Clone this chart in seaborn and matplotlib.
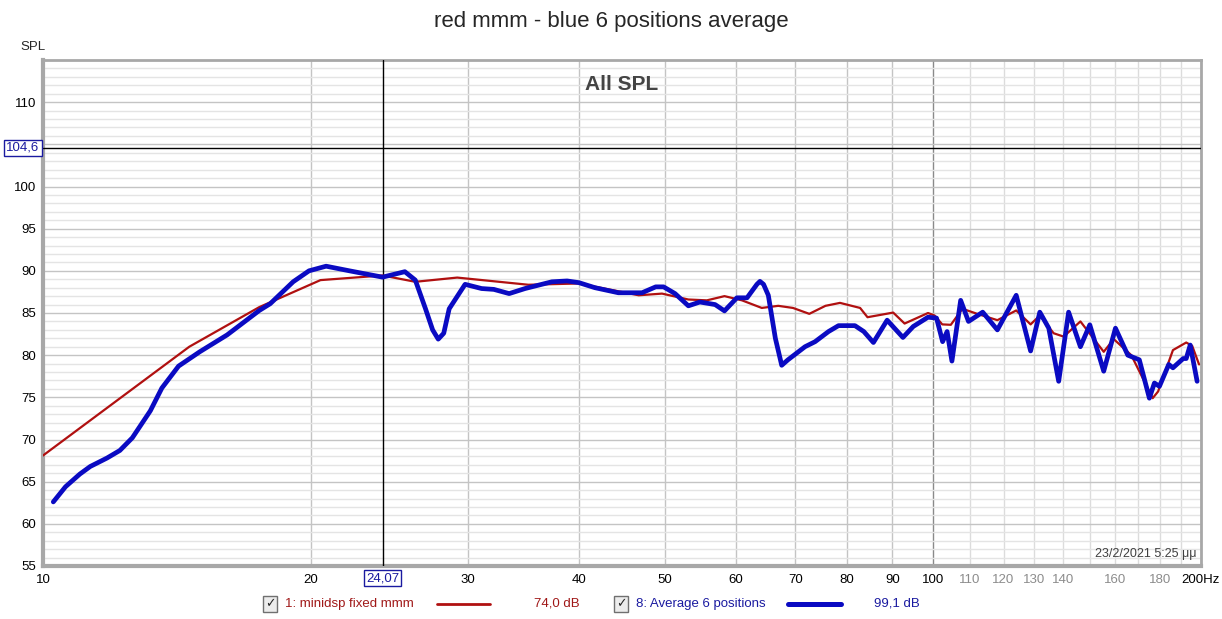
import matplotlib
matplotlib.use("Agg")
from matplotlib import pyplot as plt, transforms
from matplotlib.lines import Line2D
import seaborn as sns
import pandas as pd
import numpy as np

# measurement 1: minidsp fixed mmm (red)
red_freq = [10.0, 14.6, 17.5, 20.5, 24.07, 26.2, 29.2, 35.1, 40.0, 46.7, 49.6, 53.1,
            55.7, 58.3, 61.0, 64.2, 67.0, 69.6, 72.6, 75.7, 78.6, 82.8, 84.4, 90.2,
            92.9, 98.7, 100.4, 102.4, 104.7, 107.9, 112.1, 118.1, 124.0, 128.7, 131.8,
            136.6, 140.2, 146.4, 155.5, 159.6, 167.0, 176.5, 179.0, 186.0, 192.5,
            195.5, 199.0]
red_spl = [68.1, 81.0, 85.7, 88.9, 89.45, 88.7, 89.2, 88.35, 88.5, 87.1, 87.3, 86.6,
           86.5, 87.0, 86.5, 85.6, 85.85, 85.6, 84.9, 85.85, 86.2, 85.6, 84.5, 85.05,
           83.75, 85.0, 84.7, 83.65, 83.6, 85.5, 84.9, 84.15, 85.3, 83.65, 84.7,
           82.6, 82.2, 84.0, 80.4, 81.9, 80.0, 74.9, 75.7, 80.6, 81.5,
           81.1, 78.9]

# measurement 8: average of 6 positions (blue)
blue_freq = [10.27, 10.6, 11.0, 11.3, 11.8, 12.2, 12.6, 13.2, 13.6, 14.2, 15.0, 16.1,
             17.5, 18.0, 19.1,
             19.9, 20.8, 22.1, 24.07, 25.5, 26.2, 26.9, 27.4, 27.8, 28.2, 28.6, 29.8,
             31.1, 32.1, 33.4, 34.8, 37.3, 38.8, 40.0, 41.7, 44.3, 47.1, 48.8, 49.8,
             51.3, 53.1, 54.7, 56.9, 58.3, 60.2, 61.8, 63.4, 63.9, 64.5, 65.3, 66.5,
             67.6, 68.7, 71.8, 73.7, 76.3, 78.3, 81.7, 83.6, 85.7, 88.8, 92.5, 95.0,
             98.7, 100.9, 102.5, 103.7, 105.0, 107.4, 109.6, 113.7, 118.1, 124.0,
             128.7, 131.8, 134.9, 138.4, 142.0, 146.4, 150.0, 155.5, 160.3, 165.5,
             170.5, 175.0, 177.3, 179.6, 184.0, 186.0, 191.0, 192.5, 194.5, 198.0]
blue_spl = [62.6, 64.4, 65.9, 66.8, 67.8, 68.7, 70.2, 73.4, 76.1, 78.7, 80.4, 82.4,
            85.3, 86.1, 88.7,
            90.0, 90.55, 90.0, 89.25, 89.9, 88.9, 85.5, 83.0, 81.9, 82.6, 85.5, 88.4,
            87.9, 87.8, 87.3, 87.9, 88.7, 88.8, 88.6, 88.0, 87.4, 87.4, 88.1, 88.1,
            87.3, 85.85, 86.3, 86.0, 85.25, 86.8, 86.8, 88.4, 88.75, 88.4, 87.1, 82.0,
            78.8, 79.45, 81.0, 81.6, 82.8, 83.5, 83.5, 82.8, 81.5, 84.15, 82.1, 83.4,
            84.5, 84.4, 81.6, 82.8, 79.3, 86.5, 84.0, 85.1, 83.0, 87.1,
            80.5, 85.1, 83.2, 76.9, 85.1, 81.0, 83.6, 78.1, 83.2, 80.0,
            79.45, 74.9, 76.7, 76.3, 78.9, 78.5, 79.6, 79.6, 81.2, 76.9]

x_ticks = [10, 20, 30, 40, 50, 60, 70, 80, 90, 100, 110, 120, 130, 140, 150, 160,
           170, 180, 190, 200]
x_labels = ["10", "20", "30", "40", "50", "60", "70", "80", "90", "100", "110", "120",
            "130", "140", "", "160", "", "180", "", "200Hz"]
y_ticks = [55, 60, 65, 70, 75, 80, 85, 90, 95, 100, 105, 110]
y_labels = ["55", "60", "65", "70", "75", "80", "85", "90", "95", "100", "", "110"]
cursor_freq = 24.07
cursor_spl = 104.6

red_df = pd.DataFrame({"Frequency": red_freq, "SPL": red_spl})
blue_df = pd.DataFrame({"Frequency": blue_freq, "SPL": blue_spl})

sns.set_style("white")
plt.rcParams['font.family'] = ['Liberation Sans', 'DejaVu Sans']

RED = "#b01010"
BLUE = "#0a0ac2"

fig = plt.figure(figsize=(12.22, 6.19), dpi=100)
ax = fig.add_axes([43 / 1222, 1 - 566 / 619, (1201 - 43) / 1222, (566 - 60) / 619])

sns.lineplot(data=red_df, x="Frequency", y="SPL", ax=ax, color=RED, lw=1.6,
             estimator=None, sort=False, zorder=4)
sns.lineplot(data=blue_df, x="Frequency", y="SPL", ax=ax, color=BLUE, lw=3.4,
             estimator=None, sort=False, zorder=5, solid_joinstyle="round",
             solid_capstyle="round")

ax.set_xscale("log")
ax.set_xlim(10, 200)
ax.set_ylim(55, 115)
ax.set_xlabel("")
ax.set_ylabel("")

# grid
ax.set_xticks(x_ticks)
ax.set_xticklabels(x_labels)
ax.minorticks_off()
ax.set_yticks(y_ticks)
ax.set_yticklabels(y_labels)
ax.set_yticks(np.arange(55, 115, 1), minor=True)
ax.grid(True, which="minor", axis="y", color="#e4e4e4", lw=1, zorder=0)
ax.grid(True, which="major", axis="y", color="#c4c4c4", lw=1, zorder=1)
ax.grid(True, which="major", axis="x", color="#c4c4c4", lw=1, zorder=1)
for f, gl in zip(x_ticks, ax.get_xgridlines()):
    if f == 100:
        gl.set_color("#8a8a8a")
    elif 100 < f < 200:
        gl.set_color("#dcdcdc")
ax.tick_params(axis="both", length=0, labelsize=9.5, colors="black")
for f, lab in zip(x_ticks, ax.get_xticklabels()):
    if 100 < f < 200:
        lab.set_color("#8c8c8c")
ax.tick_params(axis="x", pad=6)
ax.tick_params(axis="y", pad=5)
for s in ax.spines.values():
    s.set_color("#a8a8a8")
    s.set_linewidth(2)
ax.spines["left"].set_linewidth(3)
ax.spines["bottom"].set_linewidth(3)

# cursor
ax.axvline(cursor_freq, color="black", lw=1, zorder=3)
ax.axhline(cursor_spl, color="black", lw=1, zorder=3)
tx = transforms.blended_transform_factory(ax.transData, ax.transAxes)
ty = transforms.blended_transform_factory(ax.transAxes, ax.transData)
box = dict(boxstyle="square,pad=0.15", fc="white", ec="#1a1aa0", lw=1)
ax.text(cursor_freq, -0.024, "24,07", transform=tx, ha="center", va="center",
        color="#1a1aa0", fontsize=9.5, bbox=box, zorder=6, clip_on=False)
ax.text(-0.003, cursor_spl, "104,6", transform=ty, ha="right", va="center",
        color="#1a1aa0", fontsize=9.5, bbox=box, zorder=6, clip_on=False)

# texts
fig.text(0.5, 1 - 22 / 619, "red mmm - blue 6 positions average", ha="center",
         va="center", fontsize=16)
fig.text(33 / 1222, 1 - 47 / 619, "SPL", ha="center", va="center", fontsize=9.5)
ax.text(0.5, 0.97, "All SPL", transform=ax.transAxes, ha="center", va="top",
        fontsize=15, fontweight="bold", color="#444444")
ax.text(0.9965, 0.012, "23/2/2021 5:25 μμ", transform=ax.transAxes, ha="right",
        va="bottom", fontsize=9, color="#404040")

# legend row
ly = 1 - 604 / 619
cb = dict(boxstyle="square,pad=0.12", fc="#ececec", ec="#707070", lw=1)
fig.text(270 / 1222, ly, "✓", ha="center", va="center", fontsize=9, bbox=cb,
         family=["DejaVu Sans"])
fig.text(285 / 1222, ly, "1: minidsp fixed mmm", ha="left", va="center",
         fontsize=9.5, color="#a01818")
fig.add_artist(Line2D([437 / 1222, 490 / 1222], [ly, ly], color=RED, lw=2))
fig.text(557 / 1222, ly, "74,0 dB", ha="center", va="center", fontsize=9.5,
         color="#a01818")
fig.text(621 / 1222, ly, "✓", ha="center", va="center", fontsize=9, bbox=cb,
         family=["DejaVu Sans"])
fig.text(636 / 1222, ly, "8: Average 6 positions", ha="left", va="center",
         fontsize=9.5, color="#1a1aa0")
fig.add_artist(Line2D([788 / 1222, 841 / 1222], [ly, ly], color=BLUE, lw=3.6,
                      solid_capstyle="round"))
fig.text(897 / 1222, ly, "99,1 dB", ha="center", va="center", fontsize=9.5,
         color="#1a1aa0")

fig.savefig("out.png", dpi=100)
